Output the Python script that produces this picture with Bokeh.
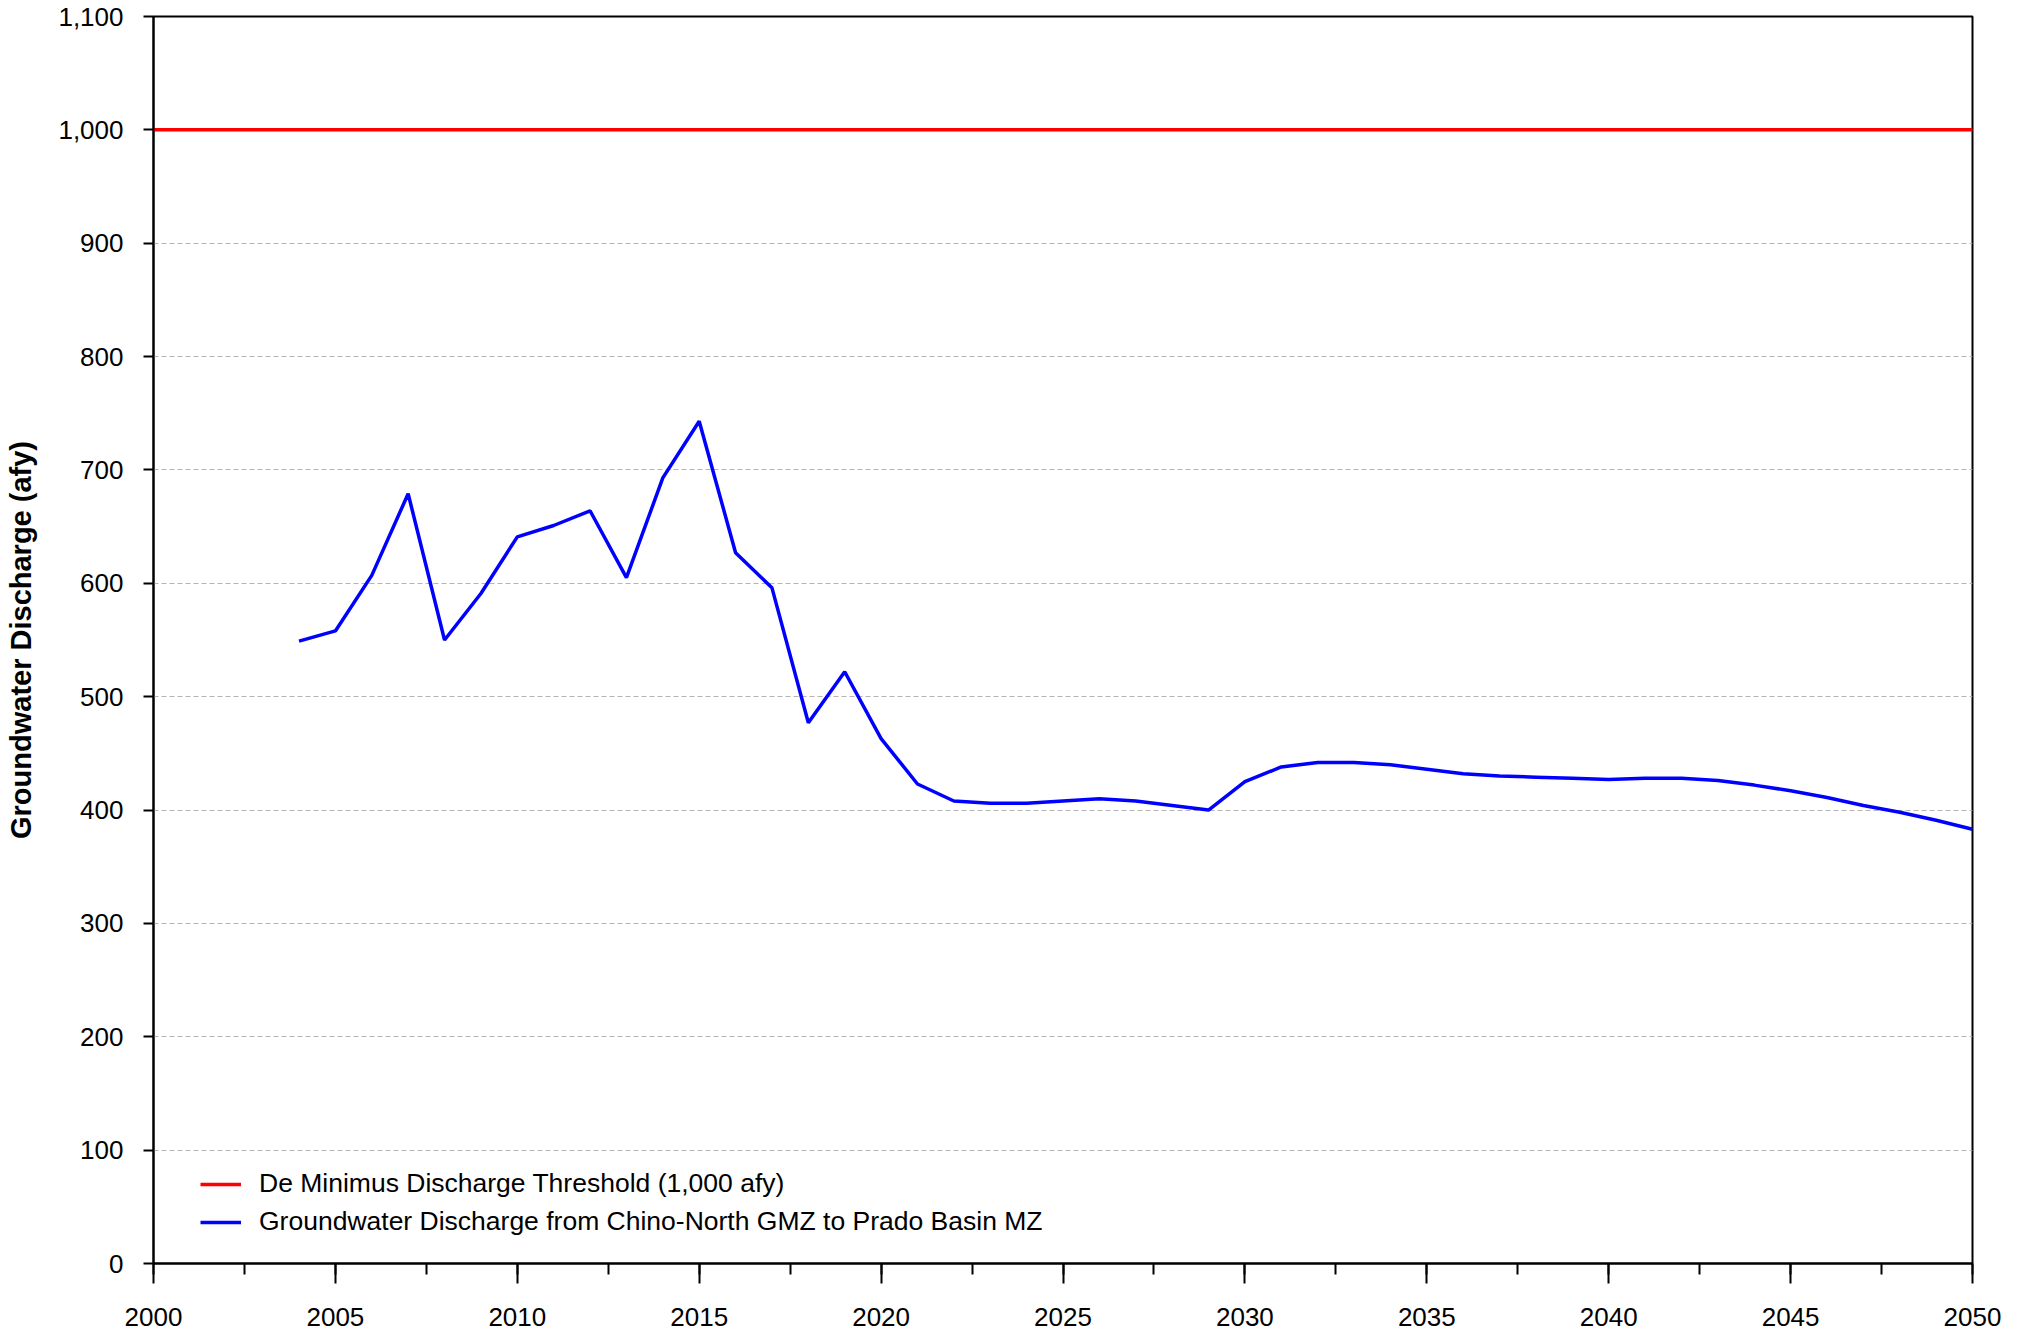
from bokeh.plotting import figure
from bokeh.models import (Range1d, SingleIntervalTicker, Legend, LegendItem,
                          NumeralTickFormatter)
from bokeh.embed import file_html
from bokeh.resources import INLINE

# ---- data ----
years = list(range(2004, 2051))
discharge = [549, 558, 607, 679, 550, 591, 641, 651, 664, 605,
             693, 743, 627, 596, 477, 522, 463, 423, 408, 406,
             406, 408, 410, 408, 404, 400, 425, 438, 442, 442,
             440, 436, 432, 430, 429, 428, 427, 428, 428, 426,
             422, 417, 411, 404, 398, 391, 383]
threshold_years = [2000, 2050]
threshold = [1000, 1000]

label_threshold = "De Minimus Discharge Threshold (1,000 afy)"
label_discharge = "Groundwater Discharge from Chino-North GMZ to Prado Basin MZ"
y_title = "Groundwater Discharge (afy)"

FONT = "Liberation Sans"

p = figure(width=2013, height=1335, output_backend="svg", toolbar_location=None,
           x_range=Range1d(2000, 2050), y_range=Range1d(0, 1100),
           min_border_left=153, min_border_right=41, min_border_top=16,
           min_border_bottom=72)

p.outline_line_color = "black"
p.outline_line_width = 2
p.background_fill_color = "white"
p.border_fill_color = "white"

# grid
p.xgrid.grid_line_color = None
p.ygrid.grid_line_color = "#b4b4b4"
p.ygrid.grid_line_dash = "5 3"
p.ygrid.grid_line_width = 1

# x axis
p.xaxis.ticker = SingleIntervalTicker(interval=5, num_minor_ticks=2)
p.xaxis.major_tick_out = 20
p.xaxis.major_tick_in = 0
p.xaxis.minor_tick_out = 11
p.xaxis.minor_tick_in = 0
p.xaxis.major_label_standoff = 24
p.xaxis.major_label_text_font = FONT
p.xaxis.major_label_text_font_size = "26px"
p.xaxis.major_label_text_color = "black"

# y axis
p.yaxis.ticker = SingleIntervalTicker(interval=100, num_minor_ticks=0)
p.yaxis.formatter = NumeralTickFormatter(format="0,0")
p.yaxis.major_tick_out = 10
p.yaxis.major_tick_in = 0
p.yaxis.minor_tick_out = 0
p.yaxis.major_label_standoff = 20
p.yaxis.major_label_text_font = FONT
p.yaxis.major_label_text_font_size = "26px"
p.yaxis.major_label_text_color = "black"
p.yaxis.axis_label = y_title
p.yaxis.axis_label_text_font = FONT
p.yaxis.axis_label_text_font_style = "bold"
p.yaxis.axis_label_text_font_size = "29px"
p.yaxis.axis_label_text_color = "black"
p.yaxis.axis_label_standoff = 18

for ax in (p.xaxis, p.yaxis):
    ax.axis_line_color = "black"
    ax.axis_line_width = 2
    ax.major_tick_line_color = "black"
    ax.major_tick_line_width = 2
    ax.minor_tick_line_color = "black"
    ax.minor_tick_line_width = 2

r_thr = p.line(threshold_years, threshold, line_color="#ff0000", line_width=3.5)
r_dis = p.line(years, discharge, line_color="#0000ff", line_width=3.5)

legend = Legend(items=[LegendItem(label=label_threshold, renderers=[r_thr]),
                       LegendItem(label=label_discharge, renderers=[r_dis])],
                location=(47, 26), orientation="vertical",
                padding=0, margin=0, spacing=7,
                glyph_width=41, glyph_height=30, label_height=30,
                label_standoff=18,
                label_text_font=FONT, label_text_font_size="26.5px",
                label_text_color="black",
                border_line_alpha=0, background_fill_alpha=0)
p.add_layout(legend)

open("out.html", "w").write(file_html(p, INLINE))
